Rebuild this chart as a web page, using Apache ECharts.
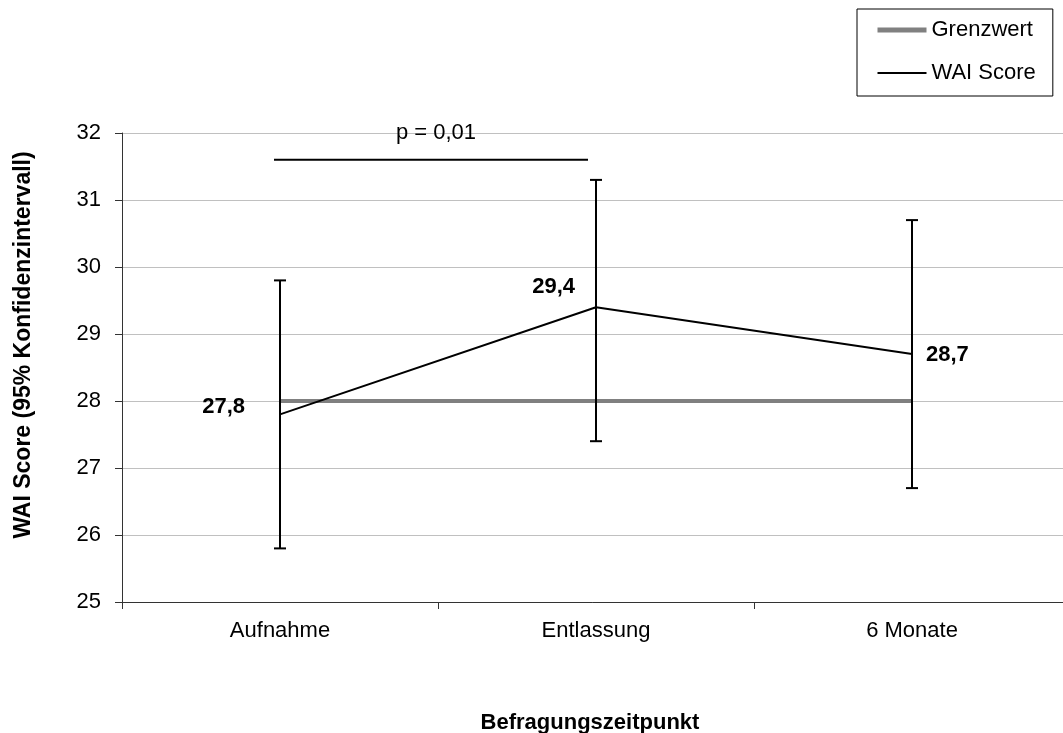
<!DOCTYPE html>
<html>
<head>
<meta charset="utf-8">
<script src="https://cdn.jsdelivr.net/npm/echarts@6/dist/echarts.min.js"></script>
<style>
html,body{margin:0;padding:0;background:#fff;}
#chart{width:1063px;height:733px;}
</style>
</head>
<body>
<div id="chart"></div>
<script>
const categories = ['Aufnahme', 'Entlassung', '6 Monate'];
const waiScore = [27.8, 29.4, 28.7];
const ciLow = [25.8, 27.4, 26.7];
const ciHigh = [29.8, 31.3, 30.7];
const grenzwert = [28, 28, 28];
const yTicks = {min: 25, max: 32, interval: 1};
const pBracket = {from: 0, to: 1, y: 31.6, text: 'p = 0,01'};
const valueLabels = ['27,8', '29,4', '28,7'];

const FONT = '"Liberation Sans", Arial, sans-serif';
const labelPlace = [
  {position: 'left', distance: 34, offset: [0, -7]},
  {position: 'left', distance: 20, offset: [0, -20]},
  {position: 'right', distance: 13, offset: [0, 1]}
];

const chart = echarts.init(document.getElementById('chart'));
chart.setOption({
  animation: false,
  backgroundColor: '#fff',
  textStyle: {fontFamily: FONT},
  grid: {left: 122, top: 133, width: 948, height: 469, outerBoundsMode: 'none', containLabel: false},
  legend: {
    data: [
      {name: 'Grenzwert', lineStyle: {color: '#808080', width: 5}},
      {name: 'WAI Score', lineStyle: {color: '#000', width: 2}}
    ],
    orient: 'vertical',
    left: 857, top: 9,
    padding: [10, 17, 12, 18],
    itemWidth: 49, itemHeight: 22, itemGap: 21,
    borderColor: '#000', borderWidth: 1,
    itemStyle: {opacity: 0},
    textStyle: {fontFamily: FONT, fontSize: 22, color: '#000'}
  },
  xAxis: {
    type: 'category',
    data: categories,
    boundaryGap: true,
    axisLine: {lineStyle: {color: '#333', width: 1}},
    axisTick: {show: true, length: 7, lineStyle: {color: '#333'}},
    axisLabel: {fontSize: 22, color: '#000', margin: 18, fontFamily: FONT},
    name: 'Befragungszeitpunkt',
    nameLocation: 'middle',
    nameGap: 110,
    nameTextStyle: {fontSize: 22, fontWeight: 'bold', color: '#000', fontFamily: FONT, padding: [0, 12, 0, 0]}
  },
  yAxis: {
    type: 'value',
    min: yTicks.min, max: yTicks.max, interval: yTicks.interval,
    axisLine: {show: true, lineStyle: {color: '#333', width: 1}},
    axisTick: {show: true, length: 7, lineStyle: {color: '#333'}},
    axisLabel: {fontSize: 22, color: '#000', margin: 21, fontFamily: FONT},
    splitLine: {lineStyle: {color: '#c0c0c0', width: 1}}
  },
  graphic: [{
    type: 'text',
    x: 24, y: 345,
    rotation: Math.PI / 2,
    style: {
      text: 'WAI Score (95% Konfidenzintervall)',
      font: 'bold 23px ' + FONT,
      fill: '#000',
      align: 'center',
      verticalAlign: 'middle'
    }
  }],
  series: [
    {
      name: 'Grenzwert',
      type: 'line',
      data: grenzwert,
      symbol: 'none',
      lineStyle: {color: '#808080', width: 4},
      itemStyle: {color: '#808080'},
      z: 2
    },
    {
      name: 'WAI Score',
      type: 'line',
      data: waiScore.map((v, i) => ({
        value: v,
        label: {show: true, formatter: valueLabels[i], position: labelPlace[i].position,
                distance: labelPlace[i].distance, offset: labelPlace[i].offset}
      })),
      symbol: 'circle',
      symbolSize: 2,
      showSymbol: true,
      lineStyle: {color: '#000', width: 2},
      itemStyle: {color: '#000'},
      label: {show: true, fontSize: 22, fontWeight: 'bold', color: '#000', fontFamily: FONT},
      z: 3
    },
    {
      name: 'CI',
      type: 'custom',
      data: categories.map((c, i) => [i, ciLow[i], ciHigh[i]]),
      renderItem: function (params, api) {
        const x = api.value(0);
        const lo = api.coord([x, api.value(1)]);
        const hi = api.coord([x, api.value(2)]);
        const hw = 6;
        const st = {stroke: '#000', lineWidth: 2};
        return {
          type: 'group',
          children: [
            {type: 'line', shape: {x1: lo[0], y1: lo[1], x2: hi[0], y2: hi[1]}, style: st},
            {type: 'line', shape: {x1: lo[0] - hw, y1: lo[1], x2: lo[0] + hw, y2: lo[1]}, style: st},
            {type: 'line', shape: {x1: hi[0] - hw, y1: hi[1], x2: hi[0] + hw, y2: hi[1]}, style: st}
          ]
        };
      },
      z: 4
    },
    {
      name: 'p',
      type: 'custom',
      data: [[pBracket.from, pBracket.to, pBracket.y]],
      renderItem: function (params, api) {
        const a = api.coord([api.value(0), api.value(2)]);
        const b = api.coord([api.value(1), api.value(2)]);
        const x1 = a[0] - 6, x2 = b[0] - 8;
        return {
          type: 'group',
          children: [
            {type: 'line', shape: {x1: x1, y1: a[1], x2: x2, y2: a[1]}, style: {stroke: '#000', lineWidth: 2}},
            {type: 'text', x: (x1 + x2) / 2 + 5, y: a[1] - 27,
             style: {text: pBracket.text, font: '22px ' + FONT, fill: '#000', align: 'center', verticalAlign: 'middle'}}
          ]
        };
      },
      z: 4
    }
  ]
});
</script>
</body>
</html>
